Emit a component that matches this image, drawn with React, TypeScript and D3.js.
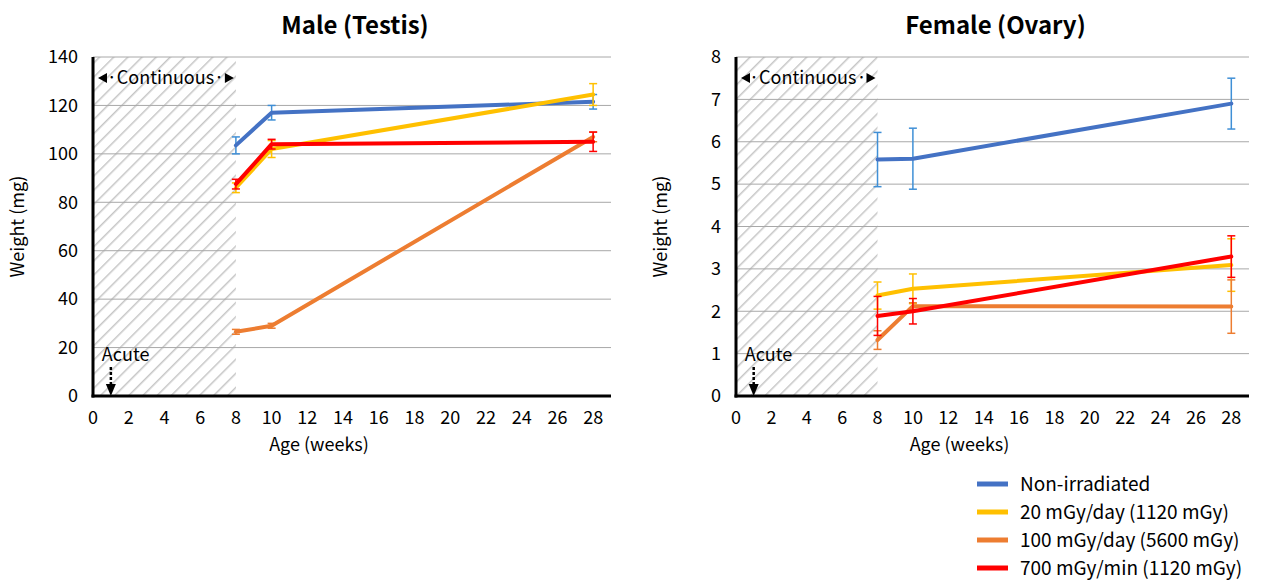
import React from 'react';
import * as d3 from 'd3';

// Age in weeks at which organs were weighed
const weeks = [8, 10, 28];
const seriesNames = ['Non-irradiated', '20 mGy/day (1120 mGy)', '100 mGy/day (5600 mGy)', '700 mGy/min (1120 mGy)'];
const seriesColors = ['#4472C4', '#FFC000', '#ED7D31', '#FF0000'];
const errorColors = ['#3f8fd6', '#FFC000', '#ED7D31', '#FF0000'];

// Male (testis) weight, mg
const maleNonIrr = [103.5, 117, 121.5];
const male20 = [86, 102, 124.5];
const male100 = [26.5, 29, 107];
const male700 = [87.5, 104, 105];
const maleNonIrrErr = [3.5, 3, 3];
const male20Err = [2, 3.5, 4.5];
const male100Err = [1, 1, 2];
const male700Err = [2, 2, 4];

// Female (ovary) weight, mg
const femaleNonIrr = [5.58, 5.6, 6.9];
const female20 = [2.37, 2.53, 3.09];
const female100 = [1.32, 2.12, 2.11];
const female700 = [1.89, 2.0, 3.29];
const femaleNonIrrErr = [0.64, 0.72, 0.6];
const female20Err = [0.32, 0.35, 0.62];
const female100Err = [0.22, 0.08, 0.63];
const female700Err = [0.46, 0.3, 0.49];

const xTicks = d3.range(0, 29, 2);
const maleYTicks = [0, 20, 40, 60, 80, 100, 120, 140];
const femaleYTicks = [0, 1, 2, 3, 4, 5, 6, 7, 8];

const FONT = '"Noto Sans CJK JP", "Liberation Sans", sans-serif';

type PanelProps = {
  id: string;
  title: string;
  left: number;
  right: number;
  yMax: number;
  yTicks: number[];
  means: number[][];
  errs: number[][];
};

function Panel({ id, title, left, right, yMax, yTicks, means, errs }: PanelProps) {
  const top = 57;
  const bottom = 396;
  const x = d3.scaleLinear().domain([0, 29]).range([left, right]);
  const y = d3.scaleLinear().domain([0, yMax]).range([bottom, top]);
  const line = d3.line<[number, number]>().x(d => x(d[0])).y(d => y(d[1]));
  const cx = (left + right) / 2;
  const x8 = x(8);
  const x1 = x(1);

  return (
    <g>
      <defs>
        <pattern id={`hatch-${id}`} patternUnits="userSpaceOnUse" width={10} height={10} patternTransform="rotate(45)">
          <line x1={0} y1={0} x2={0} y2={10} stroke="#c6c6c6" strokeWidth={3} />
        </pattern>
      </defs>
      <text x={cx + 3} y={34} textAnchor="middle" fontSize={24} fontWeight="bold" fontFamily={FONT}>{title}</text>

      {/* hatched continuous-irradiation period */}
      <rect x={x(0)} y={top} width={x8 - x(0)} height={bottom - top} fill={`url(#hatch-${id})`} />

      {/* grid */}
      {yTicks.filter(t => t > 0).map(t => (
        <line key={t} x1={x(0)} x2={right} y1={y(t)} y2={y(t)} stroke="#a8a8a8" strokeWidth={1} />
      ))}

      {/* y tick labels */}
      {yTicks.map(t => (
        <text key={t} x={x(0) - 15} y={y(t)} dy="0.35em" textAnchor="end" fontSize={18} fontFamily={FONT}>{t}</text>
      ))}
      {/* x tick labels */}
      {xTicks.map(t => (
        <text key={t} x={x(t)} y={bottom + 22} dy="0.35em" textAnchor="middle" fontSize={18} fontFamily={FONT}>{t}</text>
      ))}

      <text x={cx - 33} y={bottom + 55} textAnchor="middle" fontSize={18} fontFamily={FONT}>Age (weeks)</text>
      <text transform={`translate(${left - 69},${(top + bottom) / 2}) rotate(-90)`} textAnchor="middle" fontSize={18} fontFamily={FONT}>Weight (mg)</text>

      {/* Continuous label */}
      <path d={`M${x(0) + 5},${78} L${x(0) + 14},${73} L${x(0) + 14},${83} Z`} fill="#000" />
      <path d={`M${x8 - 2},${78} L${x8 - 11},${73} L${x8 - 11},${83} Z`} fill="#000" />
      <text x={(x(0) + x8) / 2 + 1} y={78} dy="0.35em" textAnchor="middle" fontSize={18} fontFamily={FONT}>·Continuous·</text>

      {/* Acute arrow */}
      <text x={x1 - 9} y={355} dy="0.35em" fontSize={18} fontFamily={FONT}>Acute</text>
      <line x1={x1} x2={x1} y1={367} y2={385} stroke="#000" strokeWidth={2.5} strokeDasharray="3,2" />
      <path d={`M${x1 - 5},${384} L${x1 + 5},${384} L${x1},${396} Z`} fill="#000" />

      {/* series */}
      {means.map((m, i) => (
        <g key={i}>
          {m.map((v, j) => {
            const e = errs[i][j];
            const px = x(weeks[j]);
            return (
              <g key={j} stroke={errorColors[i]} strokeWidth={1.5}>
                <line x1={px} x2={px} y1={y(v - e)} y2={y(v + e)} />
                <line x1={px - 4} x2={px + 4} y1={y(v - e)} y2={y(v - e)} />
                <line x1={px - 4} x2={px + 4} y1={y(v + e)} y2={y(v + e)} />
              </g>
            );
          })}
          <path d={line(weeks.map((w, j) => [w, m[j]]) as [number, number][]) || ''} fill="none" stroke={seriesColors[i]} strokeWidth={4} strokeLinejoin="round" strokeLinecap="round" />
        </g>
      ))}

      {/* axes */}
      <line x1={x(0)} x2={x(0)} y1={top} y2={bottom + 1.5} stroke="#000" strokeWidth={3} />
      <line x1={x(0) - 1.5} x2={right} y1={bottom} y2={bottom} stroke="#000" strokeWidth={3} />
    </g>
  );
}

export default function App() {
  return (
    <svg width={1261} height={581} style={{ display: 'block', position: 'absolute', left: 0, top: 0, background: '#fff' }}>
      <Panel
        id="m"
        title="Male (Testis)"
        left={93}
        right={611}
        yMax={140}
        yTicks={maleYTicks}
        means={[maleNonIrr, male20, male100, male700]}
        errs={[maleNonIrrErr, male20Err, male100Err, male700Err]}
      />
      <Panel
        id="f"
        title="Female (Ovary)"
        left={736}
        right={1249}
        yMax={8}
        yTicks={femaleYTicks}
        means={[femaleNonIrr, female20, female100, female700]}
        errs={[femaleNonIrrErr, female20Err, female100Err, female700Err]}
      />
      {/* legend */}
      {seriesNames.map((name, i) => (
        <g key={name}>
          <line x1={977} x2={1008} y1={484 + i * 28} y2={484 + i * 28} stroke={seriesColors[i]} strokeWidth={5} />
          <text x={1020} y={484 + i * 28} dy="0.35em" fontSize={19} fontFamily={FONT}>{name}</text>
        </g>
      ))}
    </svg>
  );
}
